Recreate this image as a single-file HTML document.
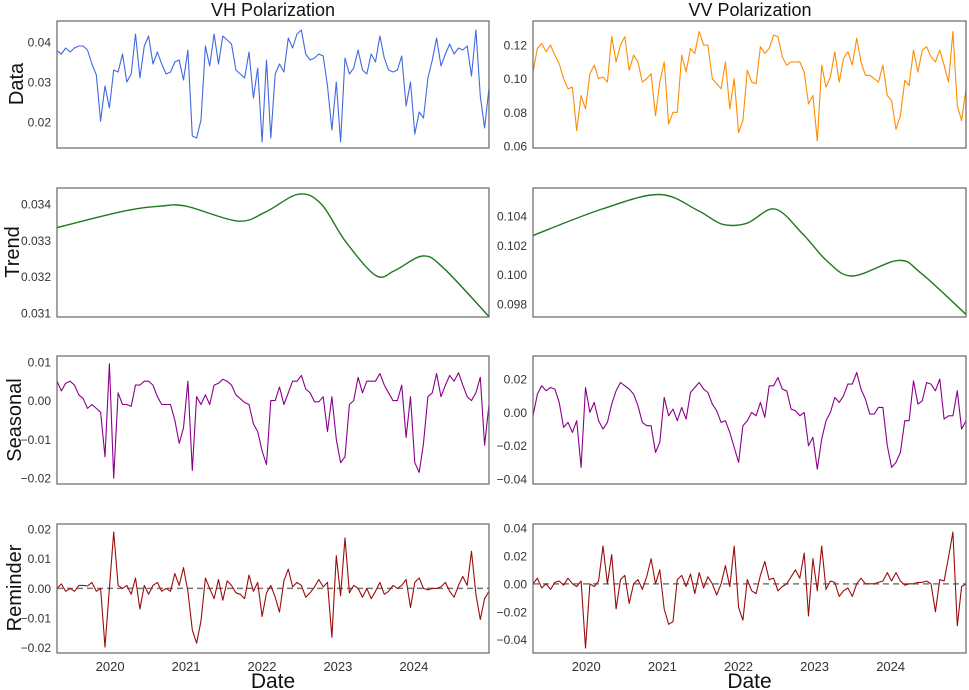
<!DOCTYPE html>
<html><head><meta charset="utf-8"><style>
html,body{margin:0;padding:0;background:#fff;}
svg{display:block;font-family:"Liberation Sans",sans-serif;}
</style></head><body>
<svg id="chart" width="969" height="690" xmlns="http://www.w3.org/2000/svg"></svg>
<script>
const yearTicks=[2020,2021,2022,2023,2024];
const dateStart=2019.30, dateEnd=2024.99, nPts=100;
const vhData=[.0378,.0370,.0385,.0375,.0385,.0390,.0390,.0380,.0345,.0318,.0202,.0290,.0235,.0330,.0325,.0370,.0300,.0320,.0420,.0310,.0390,.0415,.0345,.0375,.0345,.0320,.0325,.0350,.0355,.0305,.0380,.0165,.0160,.0205,.0390,.0340,.0420,.0345,.0415,.0405,.0395,.0330,.0320,.0310,.0375,.0260,.0335,.0150,.0355,.0160,.0320,.0345,.0325,.0410,.0385,.0420,.0430,.0370,.0355,.0360,.0370,.0365,.0290,.0180,.0300,.0150,.0360,.0320,.0335,.0380,.0330,.0320,.0370,.0350,.0415,.0360,.0330,.0325,.0330,.0365,.0240,.0300,.0170,.0225,.0210,.0310,.0355,.0410,.0340,.0370,.0395,.0370,.0385,.0380,.0390,.0315,.0430,.0265,.0185,.0285];
const vvData=[.104,.118,.121,.116,.120,.114,.109,.100,.094,.095,.069,.090,.082,.103,.108,.100,.101,.098,.125,.110,.120,.125,.105,.114,.110,.098,.100,.103,.078,.098,.110,.073,.080,.080,.114,.104,.118,.115,.128,.120,.120,.100,.097,.094,.110,.082,.100,.068,.075,.105,.098,.097,.119,.115,.118,.126,.125,.113,.108,.110,.110,.110,.104,.085,.090,.063,.108,.095,.101,.116,.098,.112,.116,.108,.124,.110,.102,.102,.100,.098,.108,.090,.087,.070,.078,.099,.096,.117,.104,.117,.119,.113,.110,.117,.108,.098,.128,.084,.075,.094];
const vhTrendDates=[2019.30,2020.17,2020.66,2021.0,2021.68,2022.04,2022.48,2022.78,2023.1,2023.5,2023.75,2024.12,2024.4,2024.99];
const vhTrend=[.03335,.0338,.03394,.03394,.03353,.03377,.03427,.0340,.03297,.03203,.03217,.03257,.03222,.0309];
const vvTrendDates=[2019.30,2020.21,2020.96,2021.47,2021.79,2022.11,2022.48,2022.85,2023.17,2023.5,2024.1,2024.4,2024.99];
const vvTrend=[.10267,.10447,.10546,.10436,.10343,.1035,.10447,.10274,.1009,.09991,.10097,.1001,.0973];
const vhSeasonal=[.005,.0025,.0045,.005,.004,.0015,.0005,-.002,-.001,-.002,-.003,-.0145,.0095,-.020,.002,-.001,-.001,-.0015,.004,.004,.005,.005,.004,.001,-.001,-.001,-.001,-.005,-.011,-.007,.005,-.018,.001,-.001,.0015,-.001,.004,.0045,.0055,.005,.004,.0015,.0005,-.0005,-.001,-.006,-.008,-.013,-.0165,.000,.000,.0035,-.001,.002,.005,.005,.0065,.003,.002,-.0003,-.0003,.001,-.008,.001,-.010,-.016,-.0145,-.001,.000,.006,.002,.005,.005,.005,.007,.004,.002,.000,.000,.004,-.0095,.001,-.016,-.0185,-.011,.001,.002,.007,.001,.004,.0065,.005,.0072,.004,.001,.000,.002,.006,-.0115,-.001];
const vvSeasonal=[-.002,.011,.016,.013,.015,.014,.006,-.009,-.006,-.012,-.005,-.033,.015,.000,.006,-.005,-.010,-.006,.005,.013,.018,.016,.014,.011,.004,-.006,-.008,-.008,-.024,-.018,.009,-.002,.002,-.005,.003,-.004,.012,.015,.018,.014,.012,.005,.001,-.006,-.005,-.012,-.021,-.030,-.008,-.005,.000,-.002,.006,-.003,.016,.016,.021,.014,.013,.002,.001,-.002,.000,-.020,-.015,-.034,-.016,-.005,.000,.009,.006,.010,.017,.017,.024,.014,.008,-.001,-.001,.003,.003,-.020,-.033,-.030,-.024,-.005,-.005,.019,.005,.007,.018,.017,.013,.020,-.004,-.002,-.002,.013,-.010,-.005];
const vhResid=[.000,.0015,-.001,.000,-.001,.001,.001,.0008,.002,-.001,.000,-.0198,.000,.019,.001,.000,.001,-.002,.0035,-.007,.001,-.002,.001,.002,-.001,.000,-.001,.005,.001,.007,-.001,-.014,-.0185,-.011,.0035,.000,-.0035,.003,-.004,.0025,.001,-.0015,-.002,-.0035,.0045,-.001,.002,-.0095,-.0015,.001,-.003,-.008,.0025,.0065,.0005,.002,.001,-.003,-.0015,.0005,.003,.0005,.002,-.0165,.011,-.0025,.017,-.0015,.001,.000,-.003,.000,-.0035,-.001,.002,-.002,-.001,.001,.000,.001,.003,-.0065,.002,.0035,.000,-.0005,.000,.000,.0005,.002,-.001,-.003,.001,.004,.001,.0125,-.002,-.0105,-.0035,-.001];
const vvResid=[.000,.004,-.003,.000,-.004,.001,.002,-.001,.004,.000,-.002,.002,-.046,.000,-.002,.002,.027,.000,.021,-.018,.003,.006,-.014,.000,.003,-.004,.005,.018,.000,.010,-.018,-.029,-.027,.003,.006,-.002,.007,-.007,.008,-.003,.005,.000,-.008,.000,.013,-.002,.027,-.017,-.026,.003,-.005,-.007,.006,.016,.003,.004,-.005,-.002,.000,.005,.010,.004,.022,-.023,.018,-.005,.027,-.004,.002,.001,-.009,-.005,-.003,-.009,.000,.004,.000,.000,.000,.001,.002,.008,.002,.008,.002,-.001,.000,.000,.001,.001,.002,.000,-.020,.003,.002,.019,.037,-.030,-.002,.000];

const NS="http://www.w3.org/2000/svg";
const svg=document.getElementById('chart');
function mk(tag,attrs,parent){const e=document.createElementNS(NS,tag);for(const k in attrs)e.setAttribute(k,attrs[k]);(parent||svg).appendChild(e);return e;}
const cols=[{x0:57,x1:489},{x0:533,x1:966}];
const rows=[{y0:21,y1:148},{y0:188,y1:317},{y0:356,y1:484},{y0:524,y1:653}];
const panels=[
 {c:0,r:0,top:.04525,bot:.0135,ticks:[.02,.03,.04],dec:2,ser:vhData,color:'#4169e1',name:'vh-data'},
 {c:1,r:0,top:.1343,bot:.0588,ticks:[.06,.08,.10,.12],dec:2,ser:vvData,color:'#ff8c00',name:'vv-data'},
 {c:0,r:1,top:.03444,bot:.03089,ticks:[.031,.032,.033,.034],dec:3,ser:vhTrend,dates:vhTrendDates,color:'#217821',name:'vh-trend'},
 {c:1,r:1,top:.1059,bot:.09712,ticks:[.098,.100,.102,.104],dec:3,ser:vvTrend,dates:vvTrendDates,color:'#217821',name:'vv-trend'},
 {c:0,r:2,top:.0115,bot:-.0215,ticks:[-.02,-.01,0,.01],dec:2,ser:vhSeasonal,color:'#8b008b',name:'vh-seasonal'},
 {c:1,r:2,top:.0339,bot:-.043,ticks:[-.04,-.02,0,.02],dec:2,ser:vvSeasonal,color:'#8b008b',name:'vv-seasonal'},
 {c:0,r:3,top:.0217,bot:-.0218,ticks:[-.02,-.01,0,.01,.02],dec:2,ser:vhResid,color:'#9b0d0d',name:'vh-reminder',zero:true},
 {c:1,r:3,top:.0428,bot:-.0495,ticks:[-.04,-.02,0,.02,.04],dec:2,ser:vvResid,color:'#9b0d0d',name:'vv-reminder',zero:true}
];
function fmt(v,d){let s=Math.abs(v).toFixed(d);return (v< -1e-9?'\u2212':'')+s;}
function smoothPath(pts){
 let d='M'+pts[0][0].toFixed(1)+','+pts[0][1].toFixed(1);
 for(let i=0;i<pts.length-1;i++){
  const p0=pts[Math.max(0,i-1)],p1=pts[i],p2=pts[i+1],p3=pts[Math.min(pts.length-1,i+2)];
  const c1=[p1[0]+(p2[0]-p0[0])/6,p1[1]+(p2[1]-p0[1])/6];
  const c2=[p2[0]-(p3[0]-p1[0])/6,p2[1]-(p3[1]-p1[1])/6];
  d+='C'+c1[0].toFixed(1)+','+c1[1].toFixed(1)+' '+c2[0].toFixed(1)+','+c2[1].toFixed(1)+' '+p2[0].toFixed(1)+','+p2[1].toFixed(1);
 }
 return d;
}
panels.forEach(p=>{
 const C=cols[p.c],R=rows[p.r];
 const xs=t=>C.x0+(t-dateStart)/(dateEnd-dateStart)*(C.x1-C.x0);
 const ys=v=>R.y0+(p.top-v)/(p.top-p.bot)*(R.y1-R.y0);
 const g=mk('g',{});
 
 
 const clipId='clip-'+p.name;
 const cp=mk('clipPath',{id:clipId},g);
 mk('rect',{x:C.x0,y:R.y0,width:C.x1-C.x0,height:R.y1-R.y0},cp);
 p.ticks.forEach(t=>{
  const tx=mk('text',{x:C.x0-6,y:ys(t)+4.5,'text-anchor':'end','font-size':'12',fill:'#333'},g);
  tx.textContent=fmt(t,p.dec);
  
  
 });
 if(p.zero){
  const z=mk('line',{x1:C.x0,x2:C.x1,y1:ys(0),y2:ys(0),stroke:'#777','stroke-width':1.5,'stroke-dasharray':'6,4'},g);
  
  
 }
 const pts=p.ser.map((v,i)=>{
  const t=p.dates?p.dates[i]:dateStart+i*(dateEnd-dateStart)/(nPts-1);
  return [xs(t),ys(v)];
 });
 const d=p.dates?smoothPath(pts):pts.map((q,i)=>(i?'L':'M')+q[0].toFixed(1)+','+q[1].toFixed(1)).join('');
 const path=mk('path',{d:d,fill:'none',stroke:p.color,'stroke-width':p.dates?1.4:1.1,'stroke-linejoin':'round','clip-path':'url(#'+clipId+')'},g);
 
 
 const fr=mk('rect',{x:C.x0,y:R.y0,width:C.x1-C.x0,height:R.y1-R.y0,fill:'none',stroke:'#666','stroke-width':1.2},g);
 
 
 if(p.r===3){
  yearTicks.forEach(y=>{
   const tx=mk('text',{x:xs(y),y:671,'text-anchor':'middle','font-size':'13',fill:'#333'},g);
   tx.textContent=String(y);
   
   
  });
  const xl=mk('text',{x:(C.x0+C.x1)/2,y:688,'text-anchor':'middle','font-size':'21',fill:'#111'},g);
  xl.textContent='Date';
  
  
 }
});
const titles=[['VH Polarization',273],['VV Polarization',750]];
titles.forEach(t=>{
 const e=mk('text',{x:t[1],y:16,'text-anchor':'middle','font-size':'18',fill:'#111'});
 e.textContent=t[0];
 
 
});
const ylabels=[['Data',84,23],['Trend',252,19],['Seasonal',420,21],['Reminder',588,21]];
ylabels.forEach(l=>{
 const e=mk('text',{x:0,y:0,'text-anchor':'middle','font-size':'20',fill:'#111',transform:'translate('+l[2]+','+l[1]+') rotate(-90)'});
 e.textContent=l[0];
 
 
});
</script>
</body></html>
